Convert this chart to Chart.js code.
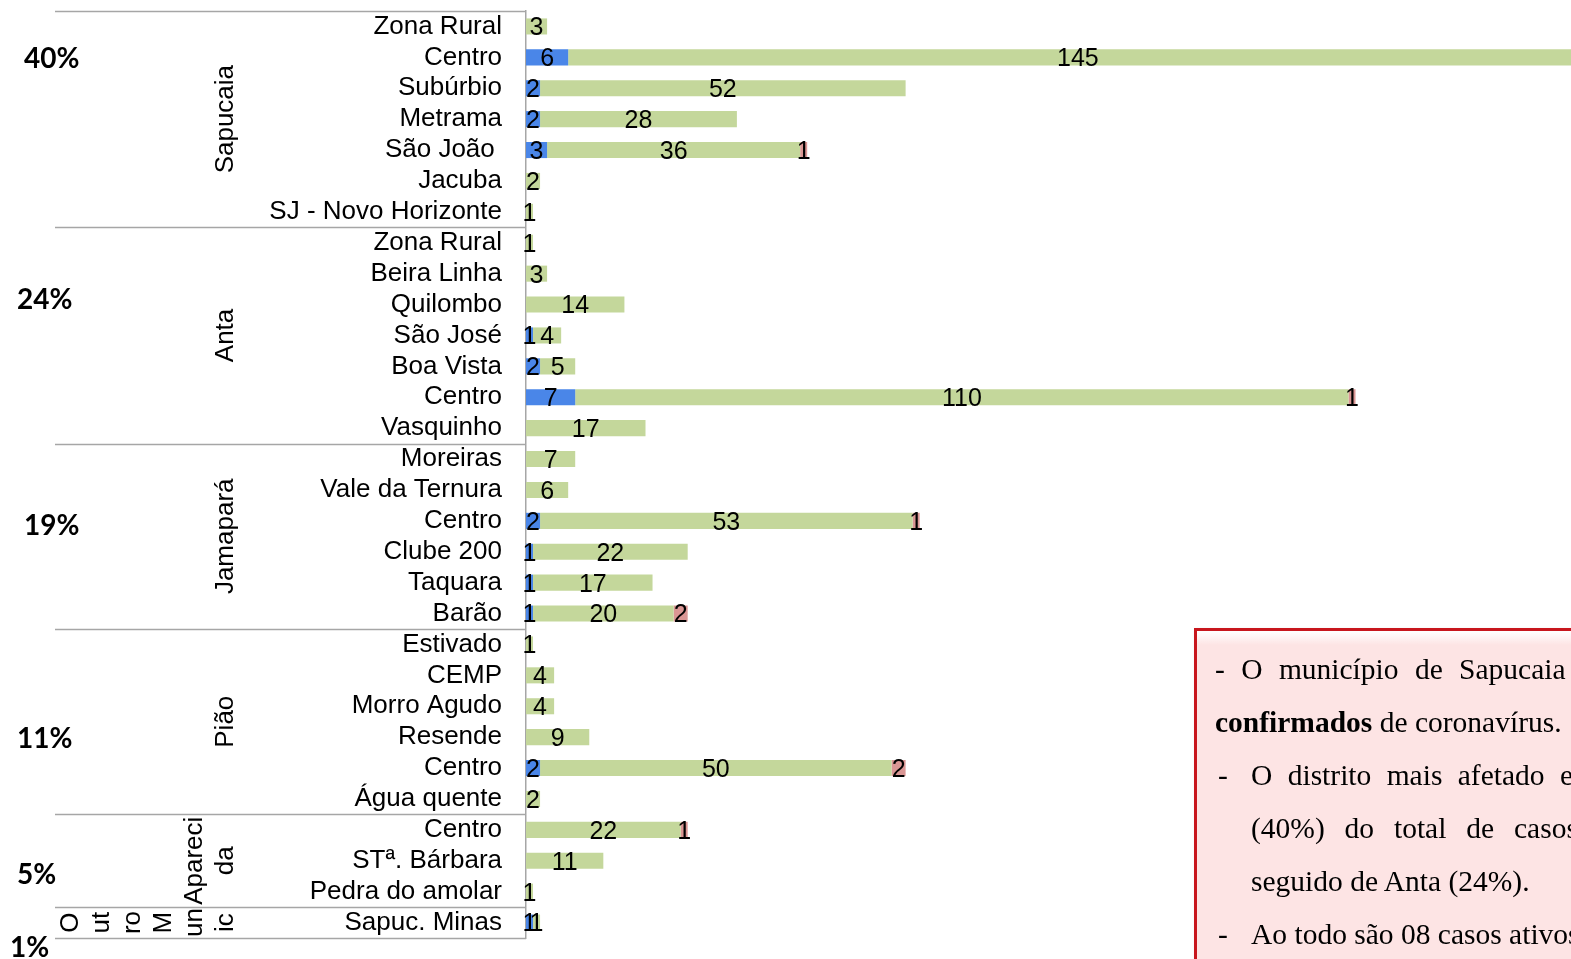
<!DOCTYPE html>
<html>
<head>
<meta charset="utf-8">
<script src="https://cdn.jsdelivr.net/npm/chart.js@4"></script>
<style>
  html, body { margin: 0; padding: 0; background: #fff; overflow: hidden; }
  .wrap { position: relative; width: 1571px; height: 959px; }
  .note {
    position: absolute; left: 1194px; top: 628px; width: 520px; height: 400px;
    border: 3px solid #c8161d;
    box-shadow: 2px 2px 3px rgba(0,0,0,0.35);
    background: linear-gradient(to bottom, #ffffff 0px, #fde4e4 14px, #fde4e4 100%);
  }
  .ln {
    position: absolute; white-space: nowrap;
    font: 29.5px 'Liberation Serif', 'Times New Roman', serif;
    line-height: 53px; height: 53px; color: #000;
  }
</style>
</head>
<body>
<div class="wrap">
  <canvas id="chart"></canvas>
  <div class="note">
    <div class="ln" style="left:18px; top:12px; word-spacing:9px">- O município de Sapucaia</div>
    <div class="ln" style="left:18px; top:65px"><b>confirmados</b> de coronavírus.</div>
    <div class="ln" style="left:21px; top:118px">-</div>
    <div class="ln" style="left:54px; top:118px; word-spacing:8px">O distrito mais afetado e</div>
    <div class="ln" style="left:54px; top:171px; word-spacing:12.5px">(40%) do total de casos</div>
    <div class="ln" style="left:54px; top:224px">seguido de Anta (24%).</div>
    <div class="ln" style="left:21px; top:277px">-</div>
    <div class="ln" style="left:54px; top:277px">Ao todo são 08 casos ativos</div>
  </div>
</div>
<script>
// bairros, de cima para baixo
const bairros = [
    'Zona Rural', 'Centro', 'Subúrbio', 'Metrama', 'São João ', 'Jacuba', 'SJ - Novo Horizonte',
    'Zona Rural', 'Beira Linha', 'Quilombo', 'São José', 'Boa Vista', 'Centro', 'Vasquinho',
    'Moreiras', 'Vale da Ternura', 'Centro', 'Clube 200', 'Taquara', 'Barão',
    'Estivado', 'CEMP', 'Morro Agudo', 'Resende', 'Centro', 'Água quente',
    'Centro', 'STª. Bárbara', 'Pedra do amolar',
    'Sapuc. Minas'
];
const ativos = [
    0, 6, 2, 2, 3, 0, 0,
    0, 0, 0, 1, 2, 7, 0,
    0, 0, 2, 1, 1, 1,
    0, 0, 0, 0, 2, 0,
    0, 0, 0,
    1
];
const recuperados = [
    3, 145, 52, 28, 36, 2, 1,
    1, 3, 14, 4, 5, 110, 17,
    7, 6, 53, 22, 17, 20,
    1, 4, 4, 9, 50, 2,
    22, 11, 1,
    1
];
const obitos = [
    0, 0, 0, 0, 1, 0, 0,
    0, 0, 0, 0, 0, 1, 0,
    0, 0, 1, 0, 0, 2,
    0, 0, 0, 0, 2, 0,
    1, 0, 0,
    0
];

// distritos (agrupamento do eixo)
const distritos = [['Sapucaia'], ['Anta'], ['Jamapará'], ['Pião'], ['Apareci', 'da'], ['O', 'ut', 'ro', 'M', 'un', 'ic']];
const inicioDistrito = [0, 7, 14, 20, 26, 29];
const percentual = ['40%', '24%', '19%', '11%', '5%', '1%'];
// onde fica cada percentual (posição em linhas do eixo)
const percentualLinha = [1, 8.8, 16.1, 23, 27.4, 29.75];
const percentualX = [24, 17, 24, 17, 17, 10];

const xMax = 148.65;

const rotulosValores = {
    id: 'rotulosValores',
    afterDatasetsDraw(chart) {
        const ctx = chart.ctx;
        ctx.save();
        ctx.font = '25px "Liberation Sans", Arial, sans-serif';
        ctx.fillStyle = '#000';
        ctx.textAlign = 'center';
        ctx.textBaseline = 'middle';
        chart.data.datasets.forEach((ds, i) => {
            const meta = chart.getDatasetMeta(i);
            meta.data.forEach((bar, j) => {
                const v = ds.data[j];
                if (!v) return;
                const p = bar.getCenterPoint();
                ctx.fillText(String(v), p.x, p.y + 2);
            });
        });
        ctx.restore();
    }
};

const gruposEixo = {
    id: 'gruposEixo',
    afterDraw(chart) {
        const ctx = chart.ctx;
        const y = chart.scales.y;
        const left = chart.chartArea.left;
        const meia = (y.getPixelForValue(1) - y.getPixelForValue(0)) / 2;
        ctx.save();

        // linhas separando os distritos
        ctx.strokeStyle = '#a6a6a6';
        ctx.lineWidth = 1.5;
        const limites = inicioDistrito.concat([bairros.length]);
        limites.forEach(idx => {
            const py = Math.round(y.getPixelForValue(idx) - meia) + 0.5;
            ctx.beginPath();
            ctx.moveTo(55, py);
            ctx.lineTo(left, py);
            ctx.stroke();
        });

        // nomes dos distritos (texto girado)
        ctx.font = '26px "Liberation Sans", Arial, sans-serif';
        ctx.fillStyle = '#000';
        ctx.textAlign = 'center';
        ctx.textBaseline = 'middle';
        distritos.forEach((linhas, d) => {
            const fim = limites[d + 1] - 1;
            const cy = (y.getPixelForValue(inicioDistrito[d]) + y.getPixelForValue(fim)) / 2;
            linhas.forEach((txt, k) => {
                const cx = 226 - 31 * (linhas.length - 1 - k);
                ctx.save();
                ctx.translate(cx, cy);
                ctx.rotate(-Math.PI / 2);
                ctx.fillText(txt, 0, 0);
                ctx.restore();
            });
        });

        // percentuais
        ctx.font = 'bold 28px Lato, "Liberation Sans", sans-serif';
        ctx.textAlign = 'left';
        percentual.forEach((txt, d) => {
            ctx.fillText(txt, percentualX[d], y.getPixelForValue(percentualLinha[d]) + 2);
        });
        ctx.restore();
    }
};

document.addEventListener('DOMContentLoaded', function() {
    const canvas = document.getElementById('chart');
    canvas.width = 1571;
    canvas.height = 959;
    const ctx = canvas.getContext('2d');
    new Chart(ctx, {
        type: 'bar',
        data: {
            labels: bairros,
            datasets: [
                { label: 'Ativos', data: ativos, backgroundColor: '#4a86e8' },
                { label: 'Recuperados', data: recuperados, backgroundColor: '#c4d79b' },
                { label: 'Óbitos', data: obitos, backgroundColor: '#da9694' }
            ]
        },
        options: {
            indexAxis: 'y',
            responsive: false,
            animation: false,
            datasets: {
                bar: {
                    barPercentage: 0.52,
                    categoryPercentage: 1,
                    borderWidth: 0
                }
            },
            layout: { padding: { left: 0, top: 11, right: 0, bottom: 21 } },
            scales: {
                x: {
                    stacked: true,
                    display: false,
                    min: 0,
                    max: xMax
                },
                y: {
                    stacked: true,
                    grid: { display: false, drawTicks: false },
                    border: { display: true, color: '#a6a6a6', width: 1.5 },
                    ticks: {
                        autoSkip: false,
                        color: '#000',
                        padding: 24,
                        font: { family: '"Liberation Sans", Arial, sans-serif', size: 26 }
                    },
                    afterFit: function(scale) {
                        scale.width = 526;
                        scale.paddingTop = 0;
                        scale.paddingBottom = 0;
                    }
                }
            },
            plugins: {
                legend: { display: false },
                tooltip: { enabled: false }
            }
        },
        plugins: [rotulosValores, gruposEixo]
    });
});
</script>
</body>
</html>
